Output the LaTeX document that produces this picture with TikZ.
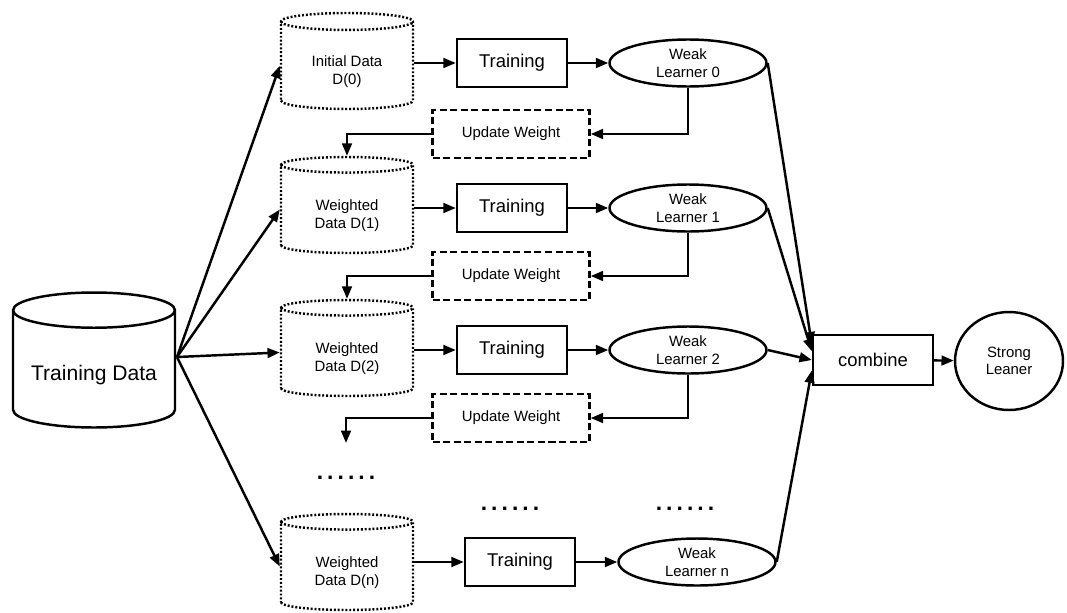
\documentclass[tikz,border=0pt]{standalone}
\usepackage{fontspec}
\setmainfont{Liberation Sans}
\usetikzlibrary{shapes.geometric,arrows.meta}

\begin{document}
\begin{tikzpicture}[x=0.02cm, y=-0.02cm, line width=1.4pt,
    >={Triangle[length=7pt,width=5.5pt]},
    small/.style={font=\fontsize{8.5pt}{10pt}\selectfont, align=center},
    database/.style={cylinder, shape border rotate=90, draw, aspect=0.28,
      minimum width=3.24cm, minimum height=2.7cm, inner sep=0pt,
      anchor=shape center, text height=15pt,
      font=\fontsize{12pt}{14pt}\selectfont},
    weighted/.style={cylinder, shape border rotate=90, draw, aspect=0.24,
      minimum width=2.64cm, minimum height=1.92cm, inner sep=0pt, small,
      anchor=shape center, text height=23pt,
      line width=1.4pt, dash pattern=on 1.1pt off 1.1pt},
    trainbox/.style={draw, minimum width=2.2cm, minimum height=0.96cm,
      font=\fontsize{10.5pt}{12pt}\selectfont},
    learner/.style={ellipse, draw, minimum width=3.14cm, minimum height=0.94cm,
      inner sep=0pt, small},
    updatebox/.style={draw, dash pattern=on 4pt off 2pt, minimum width=3.14cm,
      minimum height=0.96cm, small},
    sixdots/.style={font=\bfseries\fontsize{13pt}{14pt}\selectfont}]
  \useasboundingbox (0,0) rectangle (1067,612);

  % source data
  \node[database] (TD) at (94,360) {Training Data};
  \coordinate (tdout) at (177,357);

  % data sets for each round
  \node[weighted] (D0) at (347,61) {Initial Data\\D(0)};
  \node[weighted] (D1) at (347,205) {Weighted\\Data D(1)};
  \node[weighted] (D2) at (347,348) {Weighted\\Data D(2)};
  \node[weighted] (Dn) at (347,562) {Weighted\\Data D(n)};

  % training
  \node[trainbox] (T0) at (512,63) {Training};
  \node[trainbox] (T1) at (512,208) {Training};
  \node[trainbox] (T2) at (512,350) {Training};
  \node[trainbox] (Tn) at (520,562) {Training};

  % weak learners
  \node[learner] (W0) at (688,63) {Weak\\Learner 0};
  \node[learner] (W1) at (688,208) {Weak\\Learner 1};
  \node[learner] (W2) at (688,350) {Weak\\Learner 2};
  \node[learner] (Wn) at (697,562) {Weak\\Learner n};

  % weight updates
  \node[updatebox] (U0) at (511,134) {Update Weight};
  \node[updatebox] (U1) at (511,276) {Update Weight};
  \node[updatebox] (U2) at (511,418) {Update Weight};
  \coordinate (gap) at (346,443);

  % ensemble
  \node[draw, minimum width=2.4cm, minimum height=1cm,
    font=\fontsize{10.5pt}{12pt}\selectfont] (comb) at (873,360) {combine};
  \node[ellipse, draw, minimum width=2.16cm, minimum height=1.96cm, small]
    (strong) at (1009,361) {Strong\\Leaner};

  \node[sixdots] (dotsA) at (346,478) {.\kern2.3pt.\kern2.3pt.\kern2.3pt.\kern2.3pt.\kern2.3pt.};
  \node[sixdots] (dotsB) at (510,509) {.\kern2.3pt.\kern2.3pt.\kern2.3pt.\kern2.3pt.\kern2.3pt.};
  \node[sixdots] (dotsC) at (685,509) {.\kern2.3pt.\kern2.3pt.\kern2.3pt.\kern2.3pt.\kern2.3pt.};

  % arrows
  \draw[->] (tdout) -- (D0.west);
  \draw[->] (tdout) -- (D1.west);
  \draw[->] (tdout) -- (D2.west);
  \draw[->] (tdout) -- (Dn.west);

  \draw[->] (D0.east |- T0) -- (T0.west);
  \draw[->] (D1.east |- T1) -- (T1.west);
  \draw[->] (D2.east |- T2) -- (T2.west);
  \draw[->] (Dn.east |- Tn) -- (Tn.west);

  \draw[->] (T0) -- (W0);
  \draw[->] (T1) -- (W1);
  \draw[->] (T2) -- (W2);
  \draw[->] (Tn) -- (Wn);

  \draw[->] (W0.south) |- (U0.east);
  \draw[->] (W1.south) |- (U1.east);
  \draw[->] (W2.south) |- (U2.east);
  \draw[->] (U0.west) -| (D1.north);
  \draw[->] (U1.west) -| (D2.north);
  \draw[->] (U2.west) -| (gap);

  \draw[->] (W0.east) -- ([yshift=9pt]comb.west);
  \draw[->] (W1.east) -- ([yshift=5pt]comb.west);
  \draw[->] (W2.east) -- (comb.west);
  \draw[->] (Wn.east) -- ([yshift=-6pt]comb.west);
  \draw[->] (comb) -- (strong);
\end{tikzpicture}
\end{document}
